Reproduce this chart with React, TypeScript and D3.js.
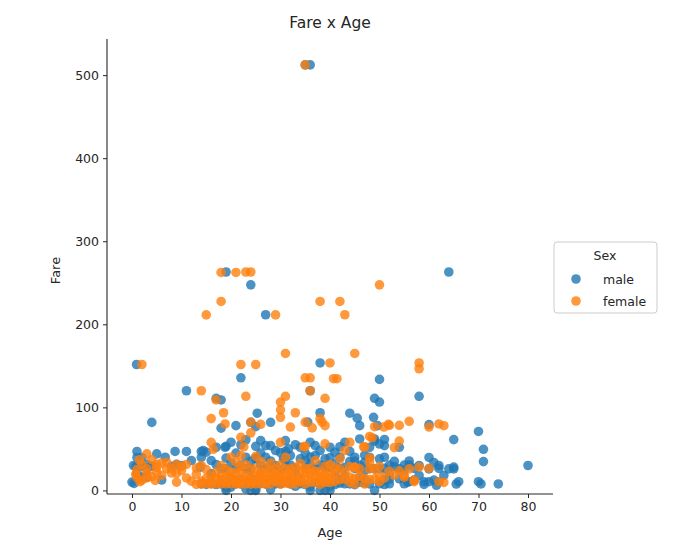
import React, { useRef, useEffect } from 'react';
import * as d3 from 'd3';

// hue order as in the legend
const sexes = ['male', 'female'];
const sexColors = ['#1f77b4', '#ff7f0e'];

const xTicks = [0, 10, 20, 30, 40, 50, 60, 70, 80];
const yTicks = [0, 100, 200, 300, 400, 500];

// [age, fare]
const malePoints: [number, number][] = [
  [36, 512.3], [35, 512.3], [19, 263], [64, 263], [24, 247.5], [27, 211.5],
  [0.92, 151.6], [11, 120], [17, 110.9], [18, 108.9], [22, 135.6], [36, 120],
  [38, 153.5], [50, 133.7], [58, 113.3], [49, 110.9], [50, 106.4], [4, 81.9],
  [25.3, 93], [28, 82], [24, 82], [21, 78], [18, 75], [25, 76.7], [35.5, 82.2],
  [38, 93.5], [44, 93], [45.5, 87], [46, 78], [48.8, 88], [49.6, 78], [60, 79.2],
  [70, 71], [65, 61.2], [71, 49.5], [71, 34.7], [80, 30], [74, 7.8], [70, 10.5],
  [70.5, 7.8], [23, 61], [26, 60], [27, 54], [28, 54], [31, 60], [31.6, 50],
  [37, 54], [42, 52.6], [46, 62], [49, 62], [51, 54], [30.6, 38], [25, 38],
  [14.4, 48], [18.8, 52], [16, 36], [49, 59.4], [51, 61.4], [54, 51.9], [56, 35.5],
  [56, 30.7], [60, 39.7], [61, 33.5], [62, 26.5], [64, 26], [65, 28], [65.5, 7.75],
  [66, 10.5], [59, 10.5], [61.5, 6.2], [49, 0], [55.7, 10], [57, 26.5], [52, 30.5],
  [0.83, 29], [1, 39.7], [1, 46.9], [0.42, 8.5], [0.3, 30], [1, 20.6], [2, 29],
  [2, 39.7], [3, 26], [3, 31.4], [3, 15.9], [4, 29.1], [6, 12.5], [6.7, 40],
  [8, 29.1], [8.7, 46.9], [9, 31.4], [11, 46.9], [13.8, 28], [14, 46.9], [14, 39.7],
  [0, 10], [16, 20.2], [17, 31.2], [18, 26], [19, 53.1], [19, 39], [19, 26.3],
  [20, 15.7], [21, 26.6], [22, 30.5], [23, 26], [24, 15.5], [24, 26], [25, 53.1],
  [25, 39], [26, 30], [26, 18.8], [27, 26.5], [28, 35.5], [28, 26.55], [29, 30],
  [29, 21], [30, 24], [30, 45.5], [31, 37], [32, 30.5], [33, 26.55], [33, 20.5],
  [34, 52], [35, 26.3], [35, 35.5], [36, 31.4], [36, 40.1], [37, 26], [38, 30.7],
  [39, 29.7], [39, 26.55], [40, 27.7], [40, 39.6], [41, 17.8], [42, 26.55],
  [43, 27.7], [44, 35], [45, 26.55], [45, 35.5], [46, 26], [47, 34], [47, 42.4],
  [48, 26.55], [48, 52], [49, 26], [50, 26], [50, 55.9], [51, 26.55], [53, 28.5],
  [54, 26], [55, 30.5], [14, 7.9], [15, 7.2], [16, 8.1], [17, 7.1], [18, 7.8],
  [18, 11.5], [19, 0], [19, 6.8], [20, 7.1], [20, 4], [21, 7.8], [21, 11.5],
  [22, 7.9], [22, 13], [23, 10.5], [24, 0], [24, 7.5], [25, 0], [25, 2], [25, 13],
  [26, 8.7], [26, 14.5], [27, 7.8], [28, 9.5], [28, 13], [29, 7.9], [30, 8.05],
  [30, 13], [31, 10.5], [32, 7.9], [32, 13], [33, 5], [34, 8.05], [34, 13],
  [35, 7.1], [36, 0], [36, 4.5], [37, 9.6], [38, 0], [38, 8.7], [39, 0], [39, 7.9],
  [40, 0], [40, 5], [41, 7.1], [42, 8.7], [42, 13], [43, 8.05], [44, 7.9],
  [45, 6.9], [46, 10], [47, 9], [47, 13], [48, 7.9], [50, 8.05], [51, 7.1],
  [51, 12.5], [52, 8], [52, 13.5], [54, 14], [55, 8.05], [56, 10.5], [57, 12.4],
  [59, 7.25], [60, 10.5], [61, 12.5], [62, 10.5], [19, 3], [23, 2], [28, 1],
  [20, 33], [21, 45], [22, 55], [23, 40], [24, 35], [26, 45], [27, 40], [29, 48],
  [31, 29], [32, 42], [33, 55], [34, 38], [35, 45], [36, 58], [37, 42], [38, 48],
  [39, 38], [40, 52], [41, 32], [41, 46], [42, 40], [43, 58], [44, 47], [45, 40],
  [46, 30], [47, 24], [48, 40], [50, 38], [51, 40], [52, 20], [53, 35], [55, 24],
  [58, 18], [58, 30], [60, 26], [62, 30], [63, 18], [65, 26], [12, 36], [10, 30],
  [5, 44], [2, 16], [15, 46], [17, 52], [20, 58], [31, 47], [43, 17], [46, 15],
];

const femalePoints: [number, number][] = [
  [35, 512.3], [18, 262.4], [21, 262.4], [23, 263], [24, 263], [18, 227.5],
  [15, 211.3], [29, 211.3], [38, 227.5], [42, 227.5], [43, 211.5], [50, 247.5],
  [31, 164.9], [45, 164.9], [2, 151.6], [25, 151.6], [22, 151.6], [40, 153.5],
  [58, 153.5], [58, 146.5], [14, 120], [35, 135.6], [36, 135.6], [36, 120],
  [40.7, 134.5], [41.4, 134.5], [17, 108.9], [23, 113.3], [30, 106.4], [31, 113.3],
  [39, 110.9], [30, 97], [30, 88], [16, 86.5], [18.5, 93.5], [18.8, 80], [24, 82.2],
  [26, 79.6], [32, 76.3], [33, 93.5], [35, 82.2], [36.4, 75.3], [38.4, 82.2],
  [39, 78], [38, 86.5], [24, 69.3], [22, 64], [22.6, 52.5], [22, 42], [16, 57.8],
  [16.4, 49.5], [30, 57.8], [34.7, 52.5], [35, 53.1], [39, 56], [44, 57.8],
  [46.8, 52.5], [48.5, 63.4], [50.9, 76.3], [51.8, 79.6], [49, 76.7], [52, 78.3],
  [54, 78.3], [56, 83.2], [60, 76.3], [62, 80], [63, 77.9], [43, 48], [48, 65],
  [54, 59.4], [53, 51.5], [47, 52.6], [48, 39.4], [50, 28.7], [44, 28.5], [45, 27.7],
  [58, 28], [54, 23.5], [55, 18], [57, 12.4], [63, 9.6], [50, 10.5], [57, 10.5],
  [20, 40], [25, 41], [0.75, 19.3], [1, 15.7], [1.6, 10.5], [2, 12.3], [3, 44],
  [3, 21], [4, 16.7], [4.7, 12], [5, 31.4], [5, 22], [6, 33], [7, 26.2], [8, 21],
  [9, 31.3], [9, 10], [10, 24], [11, 31.3], [13, 19.5], [14, 30.1], [14, 11.2],
  [2, 31.3], [3, 26], [1, 25], [5, 27.8], [9, 20.5], [10, 29], [12, 11.2], [4, 37],
  [6, 18], [8, 26.2], [3, 15], [7, 34], [1.5, 36.75], [11, 15], [13, 7.2],
  [14, 7.85], [15, 8], [15, 14.5], [16, 7.7], [16, 10.5], [17, 7.9], [17, 14.5],
  [18, 7.8], [18, 17.8], [18, 13], [19, 7.9], [19, 10.5], [19, 26], [19, 16],
  [20, 7.9], [20, 13], [20, 22], [21, 7.7], [21, 10.5], [21, 21], [21, 34], [22, 7.7],
  [22, 10.5], [22, 13], [22, 23], [22, 29], [23, 7.9], [23, 13.8], [24, 7.5],
  [24, 16.7], [24, 26], [24, 11], [25, 7.9], [25, 26], [25, 12], [26, 7.9], [26, 13],
  [26, 22], [27, 11], [27, 7.5], [27, 21], [28, 7.9], [28, 12.6], [28, 24], [28, 33],
  [29, 10.5], [29, 26], [29, 15.2], [30, 7.6], [30, 12.5], [30, 21], [30, 31],
  [31, 8.7], [31, 18], [31, 26], [32, 7.9], [32, 15.5], [32, 26], [33, 7.8],
  [33, 12.2], [33, 27.7], [34, 10.5], [34, 23], [34, 32.5], [35, 7.9], [35, 21],
  [35, 26.3], [36, 17.4], [36, 10], [36, 26.4], [37, 9.6], [37, 23], [38, 7.2],
  [38, 13], [38, 17], [39, 9.5], [39, 29.1], [39, 15], [40, 9.5], [40, 31.3],
  [40, 15.5], [41, 20.2], [41, 11], [42, 26], [42, 13], [43, 13.5], [44, 16.1],
  [45, 27.9], [45, 14.5], [45, 7.75], [46, 26], [47, 14.5], [47, 7.7], [48, 25.9],
  [48, 34.4], [48, 13], [49, 25.9], [50, 18], [52, 23], [53, 18.5], [55, 16],
  [56, 26], [60, 26.5], [62, 10.5], [26, 35], [31, 40], [37, 36], [42, 38],
  [16, 17], [17, 22], [18, 30], [20, 18], [21, 14], [23, 18], [23, 31], [25, 17],
  [26, 18], [27, 14], [27, 28], [28, 17], [29, 20], [30, 16], [31, 13], [32, 20],
  [33, 17], [34, 15], [35, 13], [36, 21], [37, 16], [38, 23], [39, 19], [40, 22],
  [41, 27], [43, 22], [44, 9.5], [46, 17], [49, 14], [51, 15], [15, 25], [13, 27],
];

const seriesPoints = [malePoints, femalePoints];

const W = 676;
const H = 549;
const plot = { left: 107, right: 553, top: 39, bottom: 494 };
const font = '"DejaVu Sans", sans-serif';

const App = () => {
  const svgRef = useRef<SVGSVGElement | null>(null);

  useEffect(() => {
    if (!svgRef.current) return;
    const svg = d3.select(svgRef.current);
    svg.selectAll('*').remove();

    const x = d3.scaleLinear().domain([-5.05, 85.05]).range([plot.left, plot.right]);
    const y = d3.scaleLinear().domain([-4.3, 543.5]).range([plot.bottom, plot.top]);

    // points, male first so female sits on top
    seriesPoints.forEach((pts, i) => {
      svg.append('g')
        .selectAll('circle')
        .data(pts)
        .enter()
        .append('circle')
        .attr('cx', d => x(d[0]))
        .attr('cy', d => y(d[1]))
        .attr('r', 4.8)
        .attr('fill', sexColors[i])
        .attr('fill-opacity', 0.8);
    });

    // axes
    const xAxis = svg.append('g')
      .attr('transform', `translate(0,${plot.bottom})`)
      .call(d3.axisBottom(x).tickValues(xTicks).tickSize(4).tickPadding(4));
    const yAxis = svg.append('g')
      .attr('transform', `translate(${plot.left},0)`)
      .call(d3.axisLeft(y).tickValues(yTicks).tickSize(4).tickPadding(4));

    [xAxis, yAxis].forEach(ax => {
      ax.select('.domain').attr('stroke', '#262626').attr('stroke-width', 1.1);
      ax.selectAll('.tick line').attr('stroke', '#262626');
      ax.selectAll('.tick text')
        .attr('fill', '#262626')
        .attr('font-family', font)
        .attr('font-size', 12.5);
    });
    // spines run the full plot width/height
    xAxis.select('.domain').attr('d', `M${plot.left},0H${plot.right}`);
    yAxis.select('.domain').attr('d', `M0,${plot.bottom}V${plot.top}`);

    // labels
    svg.append('text')
      .attr('x', (plot.left + plot.right) / 2)
      .attr('y', 28)
      .attr('text-anchor', 'middle')
      .attr('font-family', font)
      .attr('font-size', 15.5)
      .attr('fill', '#262626')
      .text('Fare x Age');

    svg.append('text')
      .attr('x', (plot.left + plot.right) / 2)
      .attr('y', 537)
      .attr('text-anchor', 'middle')
      .attr('font-family', font)
      .attr('font-size', 13)
      .attr('fill', '#262626')
      .text('Age');

    svg.append('text')
      .attr('transform', `translate(60,${(plot.top + plot.bottom) / 2 + 4}) rotate(-90)`)
      .attr('text-anchor', 'middle')
      .attr('font-family', font)
      .attr('font-size', 13)
      .attr('fill', '#262626')
      .text('Fare');

    // legend
    const legend = svg.append('g').attr('transform', 'translate(554,242)');
    legend.append('rect')
      .attr('width', 103)
      .attr('height', 71)
      .attr('rx', 3)
      .attr('fill', '#fff')
      .attr('stroke', '#cccccc');
    legend.append('text')
      .attr('x', 51)
      .attr('y', 18)
      .attr('text-anchor', 'middle')
      .attr('font-family', font)
      .attr('font-size', 12.5)
      .attr('fill', '#262626')
      .text('Sex');
    sexes.forEach((s, i) => {
      const row = legend.append('g').attr('transform', `translate(0,${37 + i * 22})`);
      row.append('circle')
        .attr('cx', 22)
        .attr('cy', 0)
        .attr('r', 4.8)
        .attr('fill', sexColors[i])
        .attr('fill-opacity', 0.8);
      row.append('text')
        .attr('x', 49)
        .attr('y', 4.5)
        .attr('font-family', font)
        .attr('font-size', 12.5)
        .attr('fill', '#262626')
        .text(s);
    });
  }, []);

  return (
    <svg
      ref={svgRef}
      width={W}
      height={H}
      style={{ position: 'absolute', left: 0, top: 0, background: '#fff' }}
    />
  );
};

export default App;
